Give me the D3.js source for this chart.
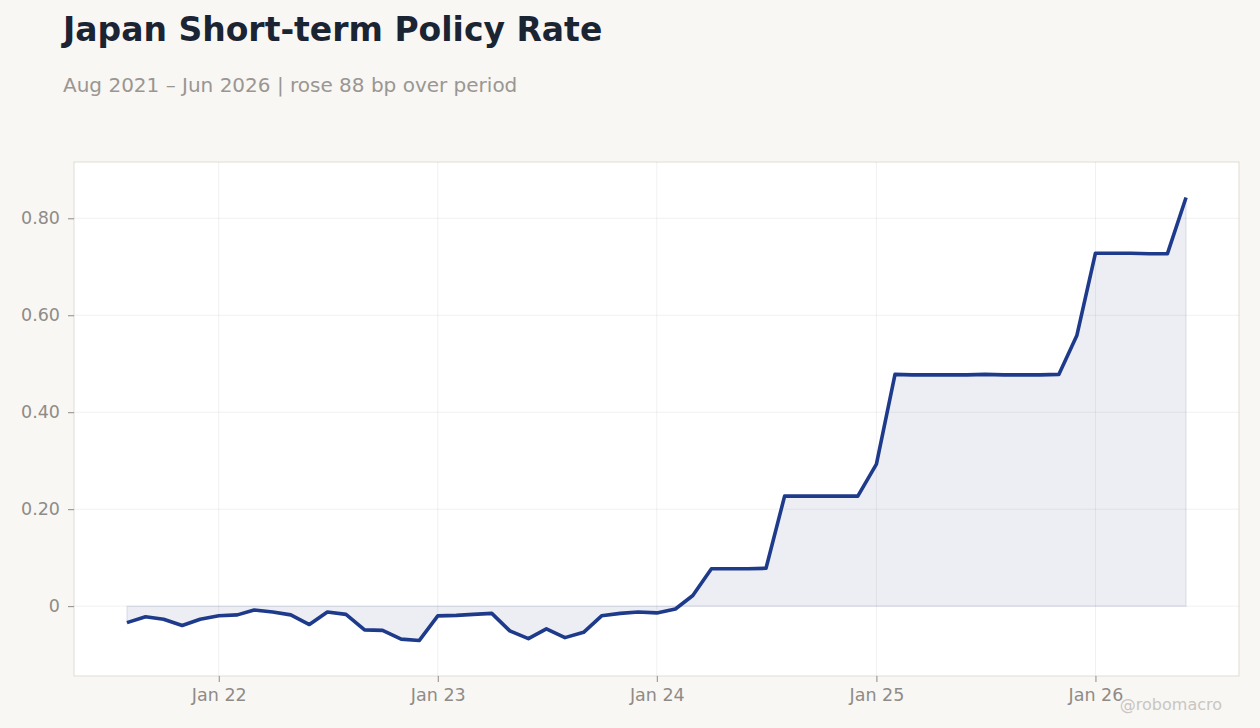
<!DOCTYPE html>
<html>
<head>
<meta charset="utf-8">
<script src="https://cdn.jsdelivr.net/npm/d3@7"></script>
<style>
  html, body { margin: 0; padding: 0; background: #f8f7f4; }
  svg { display: block; font-family: "DejaVu Sans", sans-serif; }
  .axis text { fill: #8f8b87; font-size: 17.5px; font-family: "DejaVu Sans", sans-serif; }
  .axis line { stroke: #8f8b87; }
  .axis path { display: none; }
</style>
</head>
<body>
<svg id="chart"></svg>
<script>
// ─── Data (monthly, Aug 2021 – Jun 2026, % rate) ──────────────────────────────
const months = [
  "2021-08", "2021-09", "2021-10", "2021-11", "2021-12",
  "2022-01", "2022-02", "2022-03", "2022-04", "2022-05", "2022-06",
  "2022-07", "2022-08", "2022-09", "2022-10", "2022-11", "2022-12",
  "2023-01", "2023-02", "2023-03", "2023-04", "2023-05", "2023-06",
  "2023-07", "2023-08", "2023-09", "2023-10", "2023-11", "2023-12",
  "2024-01", "2024-02", "2024-03", "2024-04", "2024-05", "2024-06",
  "2024-07", "2024-08", "2024-09", "2024-10", "2024-11", "2024-12",
  "2025-01", "2025-02", "2025-03", "2025-04", "2025-05", "2025-06",
  "2025-07", "2025-08", "2025-09", "2025-10", "2025-11", "2025-12",
  "2026-01", "2026-02", "2026-03", "2026-04", "2026-05", "2026-06"
];
const rates = [
  -0.034, -0.022, -0.027, -0.040, -0.027,
  -0.020, -0.018, -0.008, -0.012, -0.018, -0.038,
  -0.012, -0.017, -0.049, -0.050, -0.068, -0.071,
  -0.020, -0.019, -0.017, -0.015, -0.051, -0.067,
  -0.047, -0.065, -0.054, -0.020, -0.015, -0.012,
  -0.014, -0.006, 0.022, 0.077, 0.077, 0.077,
  0.078, 0.227, 0.227, 0.227, 0.227, 0.227,
  0.293, 0.478, 0.477, 0.477, 0.477, 0.477,
  0.478, 0.477, 0.477, 0.477, 0.478, 0.558,
  0.728, 0.728, 0.728, 0.727, 0.727, 0.843
];
const yTicks = [0, 0.2, 0.4, 0.6, 0.8];
const xTickDates = ["2022-01", "2023-01", "2024-01", "2025-01", "2026-01"];

const titleText = "Japan Short-term Policy Rate";
const subtitleText = "Aug 2021 \u2013 Jun 2026 | rose 88 bp over period";
const creditText = "@robomacro";

// ─── Configuration ────────────────────────────────────────────────────────────
const W = 1260, H = 728;
const plot = { left: 74, right: 1239, top: 162, bottom: 676 };
const lineColor = "#1e3a8a";
const areaColor = "#34448a";

const parseMonth = d3.timeParse("%Y-%m");
const series = months.map((m, i) => ({ date: parseMonth(m), value: rates[i] }));

const svg = d3.select("#chart").attr("width", W).attr("height", H);

// ─── Scales (5% padding on time, 8% on value) ─────────────────────────────────
const [t0, t1] = d3.extent(series, d => d.date);
const tPad = (t1 - t0) * 0.05;
const x = d3.scaleTime()
  .domain([new Date(+t0 - tPad), new Date(+t1 + tPad)])
  .range([plot.left, plot.right]);

const [v0, v1] = d3.extent(series, d => d.value);
const vPad = (v1 - v0) * 0.08;
const y = d3.scaleLinear()
  .domain([v0 - vPad, v1 + vPad])
  .range([plot.bottom, plot.top]);

// ─── Titles ───────────────────────────────────────────────────────────────────
svg.append("text")
  .attr("x", 63).attr("y", 41)
  .attr("font-size", 33).attr("font-weight", "bold")
  .attr("fill", "#1b2433")
  .text(titleText);

svg.append("text")
  .attr("x", 63).attr("y", 92)
  .attr("font-size", 20)
  .attr("fill", "#9a9692")
  .text(subtitleText);

// ─── Plot frame ───────────────────────────────────────────────────────────────
svg.append("rect")
  .attr("x", plot.left).attr("y", plot.top)
  .attr("width", plot.right - plot.left)
  .attr("height", plot.bottom - plot.top)
  .attr("fill", "#ffffff")
  .attr("stroke", "#e2ddd5")
  .attr("stroke-width", 1);

// ─── Area (under the grid) ────────────────────────────────────────────────────
const area = d3.area()
  .x(d => x(d.date))
  .y0(y(0))
  .y1(d => y(d.value));

svg.append("path")
  .datum(series)
  .attr("d", area)
  .attr("fill", areaColor)
  .attr("fill-opacity", 0.09)
  .attr("stroke", areaColor)
  .attr("stroke-opacity", 0.1)
  .attr("stroke-width", 1.5);

// Grid
const grid = svg.append("g").attr("class", "grid");
grid.selectAll("line.h")
  .data(yTicks)
  .join("line")
  .attr("class", "h")
  .attr("x1", plot.left).attr("x2", plot.right)
  .attr("y1", d => y(d)).attr("y2", d => y(d))
  .attr("stroke", "#000")
  .attr("stroke-opacity", 0.06);

grid.selectAll("line.v")
  .data(xTickDates.map(parseMonth))
  .join("line")
  .attr("class", "v")
  .attr("x1", d => x(d)).attr("x2", d => x(d))
  .attr("y1", plot.top).attr("y2", plot.bottom)
  .attr("stroke", "#000")
  .attr("stroke-opacity", 0.06);

// ─── Axes ─────────────────────────────────────────────────────────────────────
svg.append("g")
  .attr("class", "axis")
  .attr("transform", `translate(${plot.left},0)`)
  .call(d3.axisLeft(y)
    .tickValues(yTicks)
    .tickSize(6)
    .tickPadding(8)
    .tickFormat(d => d === 0 ? "0" : d3.format(".2f")(d)));

svg.append("g")
  .attr("class", "axis")
  .attr("transform", `translate(0,${plot.bottom})`)
  .call(d3.axisBottom(x)
    .tickValues(xTickDates.map(parseMonth))
    .tickSize(6)
    .tickPadding(7)
    .tickFormat(d3.timeFormat("Jan %y")));

// ─── Line ─────────────────────────────────────────────────────────────────────
const line = d3.line()
  .x(d => x(d.date))
  .y(d => y(d.value));

svg.append("path")
  .datum(series)
  .attr("d", line)
  .attr("fill", "none")
  .attr("stroke", lineColor)
  .attr("stroke-width", 3.6)
  .attr("stroke-linejoin", "round");

// ─── Credit ───────────────────────────────────────────────────────────────────
svg.append("text")
  .attr("x", 1222).attr("y", 710)
  .attr("text-anchor", "end")
  .attr("font-size", 16)
  .attr("fill", "#c9c6c2")
  .text(creditText);
</script>
</body>
</html>
